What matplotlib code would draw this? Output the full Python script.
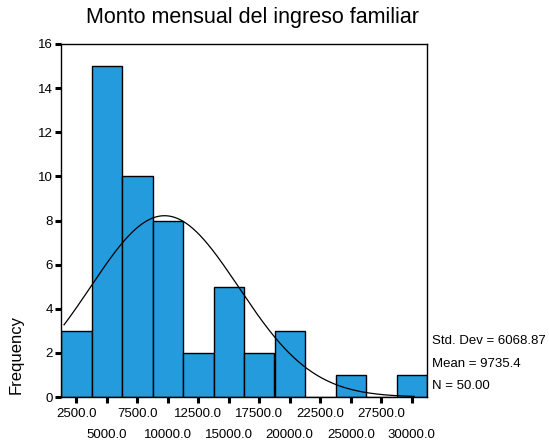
import numpy as np
import matplotlib
matplotlib.use("Agg")
import matplotlib.pyplot as plt

plt.rcParams['font.family'] = ['Liberation Sans', 'DejaVu Sans']

bin_centers = [2500, 5000, 7500, 10000, 12500, 15000, 17500, 20000, 22500, 25000, 27500, 30000]
counts = [3, 15, 10, 8, 2, 5, 2, 3, 0, 1, 0, 1]
bin_width = 2500
mean_val = 9735.4
std_val = 6068.87
n_val = 50
yticks = [0, 2, 4, 6, 8, 10, 12, 14, 16]
xtick_labels = ["%.1f" % c for c in bin_centers]

W, H = 549, 445
fig = plt.figure(figsize=(W / 100, H / 100), dpi=100)
ax = fig.add_axes([61 / W, 1 - 397 / H, (427 - 61) / W, (397 - 44) / H])

ax.bar(bin_centers, counts, width=bin_width, color='#239BDC', edgecolor='black', linewidth=1.0, zorder=2)

xs = np.linspace(1500, 30200, 300)
ys = n_val * bin_width / (std_val * np.sqrt(2 * np.pi)) * np.exp(-0.5 * ((xs - mean_val) / std_val) ** 2)
ax.plot(xs, ys, color='black', linewidth=0.9, zorder=3)

ax.set_xlim(bin_centers[0] - bin_width / 2, bin_centers[-1] + bin_width / 2)
ax.set_ylim(0, 16)

ax.set_yticks(yticks)
ax.set_yticklabels([str(v) for v in yticks], fontsize=9.5)
odd = bin_centers[0::2]
even = bin_centers[1::2]
ax.set_xticks(odd)
ax.set_xticklabels(xtick_labels[0::2], fontsize=9.5)
ax.set_xticks(even, minor=True)
ax.set_xticklabels(xtick_labels[1::2], minor=True, fontsize=9.5)
ax.tick_params(axis='y', direction='out', length=4, width=2.2, pad=2)
ax.tick_params(axis='x', which='both', direction='out', length=4, width=2.2)
ax.tick_params(axis='x', which='major', pad=4)
ax.tick_params(axis='x', which='minor', pad=19)
for s in ax.spines.values():
    s.set_linewidth(1.0)

ax.set_ylabel('Frequency', fontsize=12)
ax.yaxis.set_label_coords(-16 / 61 * 61 / (427 - 61) * 1 - 0.0, (397 - 355) / (397 - 44))
ax.yaxis.label.set_position((0, (397 - 355) / (397 - 44)))
ax.yaxis.label.set_verticalalignment('center')
ax.yaxis.set_label_coords((16 - 61) / (427 - 61), (397 - 355) / (397 - 44))

fig.text(253 / W, 1 - 17 / H, 'Monto mensual del ingreso familiar', fontsize=15.5, ha='center', va='center')
fig.text(432 / W, 1 - 341 / H, 'Std. Dev = %.2f' % std_val, fontsize=9.5, ha='left', va='center')
fig.text(432 / W, 1 - 364 / H, 'Mean = %.1f' % mean_val, fontsize=9.5, ha='left', va='center')
fig.text(432 / W, 1 - 386 / H, 'N = %.2f' % n_val, fontsize=9.5, ha='left', va='center')

fig.savefig('out.png', dpi=100)
